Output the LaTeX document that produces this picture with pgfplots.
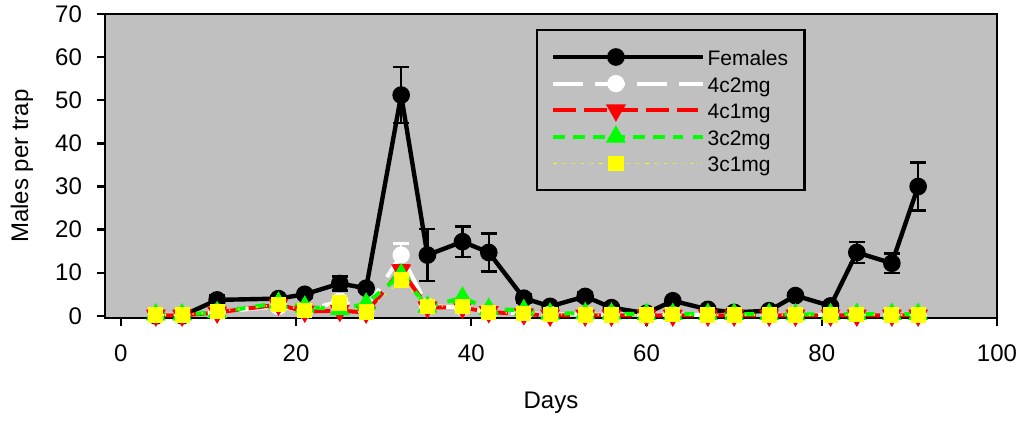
\documentclass[border=0pt]{standalone}
\usepackage{fontspec}
\setmainfont{Liberation Sans}
\usepackage{pgfplots}
\pgfplotsset{compat=1.18}
\usepackage{pgfplotstable}

\definecolor{bg}{RGB}{192,192,192}
\definecolor{myred}{RGB}{255,0,0}
\definecolor{mygreen}{RGB}{0,255,0}
\definecolor{myyellow}{RGB}{255,255,0}

\pgfplotstableread{
x y e
4 0 0
7 0 0
11 3.7 1.2
18 4.0 0.6
21 5.0 0.8
25 7.5 1.6
28 6.4 0.8
32 51.2 6.5
35 14.1 6.0
39 17.2 3.5
42 14.7 4.4
46 4.1 1.0
49 2.2 0.5
53 4.5 0.9
56 1.9 0.4
60 0.6 0.3
63 3.5 0.6
67 1.5 0.4
70 0.8 0.3
74 1.2 0.3
77 4.7 0.6
81 2.3 0.5
84 14.7 2.4
88 12.2 2.3
91 30.0 5.6
}\females

\pgfplotstableread{
x y e
4 0.2 0
7 0.2 0
11 0.9 0
18 2.2 0
21 1.2 0
25 3.4 0
28 1.5 0
32 14.1 2.7
35 2.2 0
39 2.0 0
42 0.8 0
46 0.6 0
49 0.4 0
53 0.3 0
56 0.3 0
60 0.2 0
63 0.3 0
67 0.2 0
70 0.2 0
74 0.2 0
77 0.3 0
81 0.2 0
84 0.3 0
88 0.2 0
91 0.2 0
}\fourctwo

\pgfplotstableread{
x y e
4 0.1 0
7 0.1 0
11 0.8 0
18 2.6 0
21 1.0 0
25 1.2 0
28 0.8 0
32 10.6 1.1
35 2.0 0
39 1.9 0
42 0.9 0
46 0.4 0
49 0.1 0
53 0.1 0
56 0.1 0
60 0.1 0
63 0.1 0
67 0.1 0
70 0.1 0
74 0.1 0
77 0.1 0
81 0.1 0
84 0.1 0
88 0.1 0
91 0.1 0
}\fourcone

\pgfplotstableread{
x y
4 0.3
7 0.3
11 0.8
18 3.0
21 2.1
25 1.5
28 2.8
32 9.6
35 2.1
39 4.2
42 1.6
46 1.3
49 0.5
53 0.6
56 0.5
60 0.4
63 0.4
67 0.4
70 0.4
74 0.4
77 0.3
81 0.4
84 0.4
88 0.4
91 0.4
}\threectwo

\pgfplotstableread{
x y
4 0.2
7 0.2
11 1.0
18 2.6
21 1.3
25 3.0
28 0.9
32 8.3
35 2.2
39 2.2
42 0.8
46 0.6
49 0.4
53 0.2
56 0.2
60 0.2
63 0.3
67 0.2
70 0.2
74 0.2
77 0.2
81 0.2
84 0.3
88 0.2
91 0.2
}\threecone

\begin{document}
\begin{tikzpicture}
\begin{axis}[
  scale only axis,
  width=446pt, height=152pt,
  xmin=-1.8, xmax=100, ymin=-0.5, ymax=70,
  clip=false,
  axis background/.style={fill=bg},
  axis line style={line width=1.2pt},
  xtick={0,20,...,100}, ytick={0,10,...,70},
  tick align=outside, tick pos=left,
  major tick length=4pt,
  every tick/.style={black, line width=1.2pt},
  tick label style={font=\fontsize{12}{14}\selectfont},
  xticklabel style={yshift=-6pt},
  yticklabel style={xshift=-4pt},
  /pgf/number format/assume math mode=true,
  xlabel={Days}, ylabel={Males per trap},
  label style={font=\fontsize{12}{14}\selectfont},
  xlabel style={at={(axis description cs:0.5,0)}, anchor=center, yshift=-42.5pt},
  ylabel style={at={(axis description cs:-0.093,0.5)}, anchor=center},
  legend style={at={(axis description cs:0.4832,0.9507)}, anchor=north west,
    draw=black, line width=1.2pt, fill=none,
    font=\fontsize{10.5}{12}\selectfont,
    inner xsep=7pt, inner ysep=6.75pt,
    nodes={text height=9.8pt, text depth=1.2pt, inner sep=1.15pt},
    row sep=0pt},
  legend cell align=left,
  legend image code/.code={\path (0pt,0pt) -- (74.85pt,0pt);
    \draw[mark repeat=2,mark phase=2,#1] plot coordinates {(1pt,0pt) (31.25pt,0pt) (61.5pt,0pt)};},
]
\addplot[black, line width=2.2pt, mark=*, mark size=3.3pt, mark options={solid, fill=black},
  error bars/.cd, y dir=both, y explicit,
  error bar style={line width=1.2pt, black, solid},
  error mark options={rotate=90, mark size=4pt, line width=1.2pt, black, solid}]
  table[x=x, y=y, y error=e] {\females};
\addlegendentry{Females}
\addplot[white, line width=2pt, dash pattern=on 14pt off 7pt, mark=*, mark size=3.3pt, mark options={solid, fill=white, draw=white},
  error bars/.cd, y dir=plus, y explicit,
  error bar style={line width=1.2pt, white, solid},
  error mark options={rotate=90, mark size=4pt, line width=1.2pt, white, solid}]
  table[x=x, y=y, y error=e] {\fourctwo};
\addlegendentry{4c2mg}
\addplot[myred, line width=2pt, dash pattern=on 10.5pt off 5pt, mark=triangle*, mark size=3.8pt, mark options={solid, rotate=180, fill=myred, draw=myred},
  error bars/.cd, y dir=plus, y explicit,
  error bar style={line width=1.2pt, myred, solid},
  error mark options={rotate=90, mark size=4pt, line width=1.2pt, myred, solid}]
  table[x=x, y=y, y error=e] {\fourcone};
\addlegendentry{4c1mg}
\addplot[mygreen, line width=2pt, dash pattern=on 5pt off 5pt, mark=triangle*, mark size=3.8pt, mark options={solid, fill=mygreen, draw=mygreen}]
  table[x=x, y=y] {\threectwo};
\addlegendentry{3c2mg}
\addplot[myyellow, line width=0.8pt, dash pattern=on 0.6pt off 4pt, mark=square*, mark size=3.4pt, mark options={solid, fill=myyellow, draw=myyellow}]
  table[x=x, y=y] {\threecone};
\addlegendentry{3c1mg}
\coordinate (SW) at (rel axis cs:0,0);
\coordinate (NE) at (rel axis cs:1,1);
\end{axis}
\pgfresetboundingbox
\path[use as bounding box] ([xshift=-52.5pt,yshift=-51.5pt]SW) rectangle ([xshift=13.5pt,yshift=7pt]NE);
\end{tikzpicture}
\end{document}
